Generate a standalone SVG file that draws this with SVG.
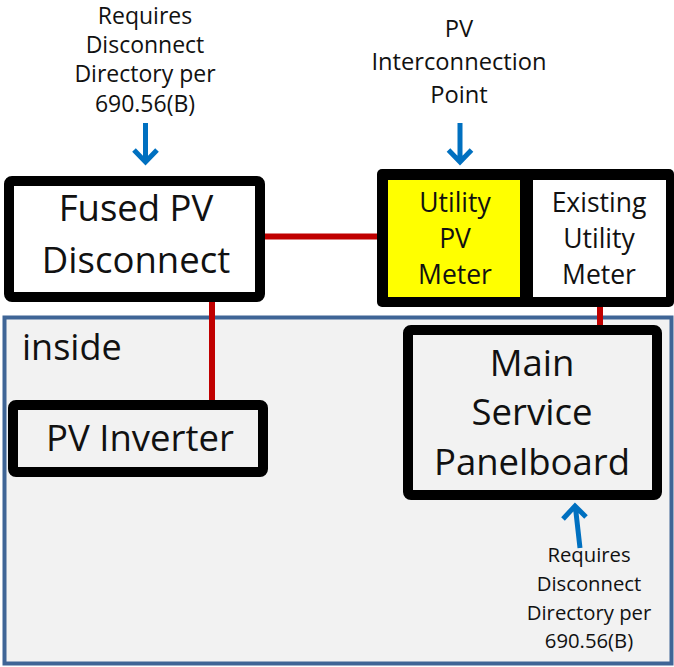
<svg xmlns="http://www.w3.org/2000/svg" width="674" height="667" viewBox="0 0 674 667">
<style>
  .box { stroke: #000; stroke-width: 10; stroke-linejoin: round; }
  .big { font-family: "Open Sans", "Liberation Sans", sans-serif; font-size: 36.5px; fill: #111; text-anchor: middle; }
  .mid { font-family: "Open Sans", "Liberation Sans", sans-serif; font-size: 26.5px; fill: #111; text-anchor: middle; }
  .note { font-family: "Open Sans", "Liberation Sans", sans-serif; font-size: 23px; fill: #111; text-anchor: middle; }
  .note-l { font-family: "Open Sans", "Liberation Sans", sans-serif; font-size: 23.7px; fill: #111; text-anchor: middle; }
  .note-s { font-family: "Open Sans", "Liberation Sans", sans-serif; font-size: 20.3px; fill: #111; text-anchor: middle; }
  .wire { stroke: #c00000; stroke-width: 6; fill: none; }
  .arrow { stroke: #0070c0; stroke-width: 5; fill: none; stroke-linejoin: miter; }
</style>
<rect width="674" height="667" fill="#ffffff"/>
<g id="inside">
  <rect x="4.5" y="317.5" width="667" height="346" fill="#f2f2f2" stroke="#3f6596" stroke-width="4"/>
  <text x="22" y="360" font-family="Open Sans, Liberation Sans, sans-serif" font-size="36" fill="#111">inside</text>
</g>
<g id="connectors">
  <line class="wire" x1="264" y1="236.5" x2="380" y2="236.5"/>
  <line class="wire" x1="212" y1="300" x2="212" y2="402"/>
  <line class="wire" x1="600" y1="305" x2="600" y2="327"/>
  <path class="arrow" d="M145.5,123 V161 M134,150 L145.5,162 L157,150"/>
  <path class="arrow" d="M460,123 V161 M448.5,150 L460,162 L471.5,150"/>
  <path class="arrow" d="M580,548 L575.5,508 M563,519 L575,506 L586,517"/>
</g>
<g id="fused-pv-disconnect">
  <rect class="box" x="9" y="181" width="251" height="116" rx="3" fill="#ffffff"/>
  <text class="big" x="136" y="221">Fused PV</text>
  <text class="big" x="136" y="273">Disconnect</text>
</g>
<g id="meters">
  <rect x="377" y="169" width="297" height="138" rx="5" fill="#000"/>
  <g id="utility-pv-meter">
    <rect x="388" y="180" width="132" height="117" fill="#ffff00"/>
    <text class="mid" x="455" y="212">Utility</text>
    <text class="mid" x="455" y="248">PV</text>
    <text class="mid" x="455" y="284">Meter</text>
  </g>
  <g id="existing-utility-meter">
    <rect x="533" y="180" width="133" height="117" fill="#ffffff"/>
    <text class="mid" x="599" y="212">Existing</text>
    <text class="mid" x="599" y="248">Utility</text>
    <text class="mid" x="599" y="284">Meter</text>
  </g>
</g>
<g id="pv-inverter">
  <rect class="box" x="13" y="405" width="250" height="67" rx="3" fill="#f2f2f2"/>
  <text class="big" x="140" y="451">PV Inverter</text>
</g>
<g id="main-service-panelboard">
  <rect class="box" x="408" y="330" width="249" height="165" rx="3" fill="#f2f2f2"/>
  <text class="big" x="532" y="376">Main</text>
  <text class="big" x="532" y="425">Service</text>
  <text class="big" x="532" y="475">Panelboard</text>
</g>
<g id="note-disconnect-top">
  <text class="note" x="145" y="24">Requires</text>
  <text class="note" x="145" y="53">Disconnect</text>
  <text class="note" x="145" y="82">Directory per</text>
  <text class="note" x="145" y="112">690.56(B)</text>
</g>
<g id="note-interconnection">
  <text class="note-l" x="459" y="37">PV</text>
  <text class="note-l" x="459" y="70">Interconnection</text>
  <text class="note-l" x="459" y="103">Point</text>
</g>
<g id="note-disconnect-bottom">
  <text class="note-s" x="589" y="562">Requires</text>
  <text class="note-s" x="589" y="591">Disconnect</text>
  <text class="note-s" x="589" y="620">Directory per</text>
  <text class="note-s" x="589" y="648">690.56(B)</text>
</g>
</svg>
